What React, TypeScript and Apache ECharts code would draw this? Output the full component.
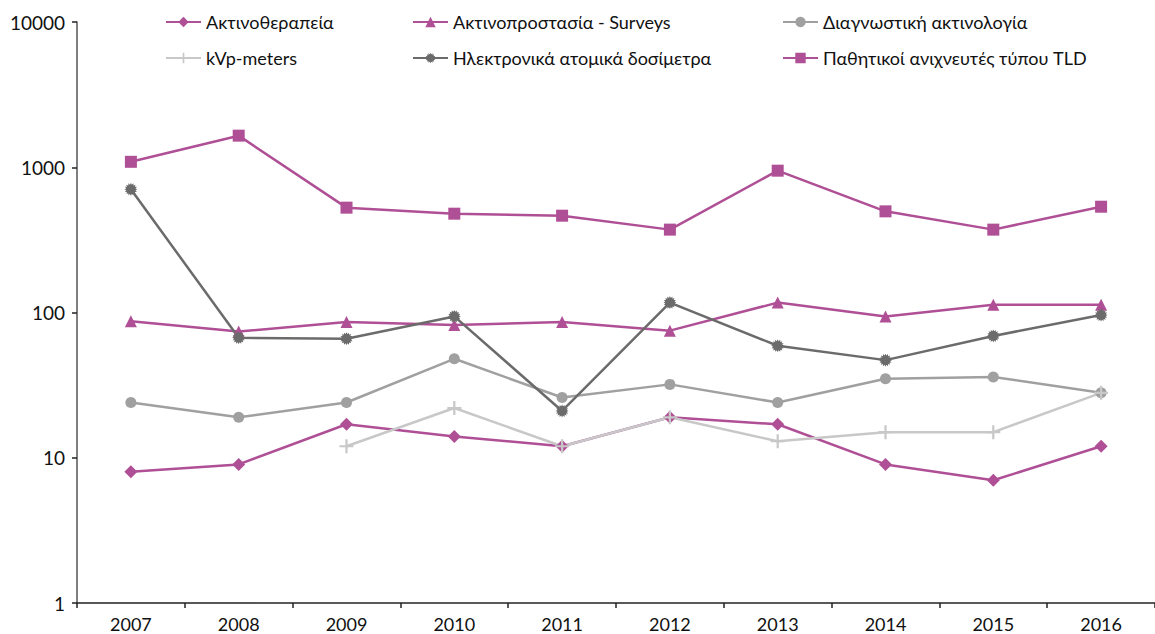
import React, { useEffect, useRef } from "react";
import * as echarts from "echarts";

const years = ["2007", "2008", "2009", "2010", "2011", "2012", "2013", "2014", "2015", "2016"];

const radiotherapy = [8, 9, 17, 14, 12, 19, 17, 9, 7, 12];
const surveys = [87, 74, 86, 82, 86, 75, 117, 94, 113, 113];
const diagnostic = [24, 19, 24, 48, 26, 32, 24, 35, 36, 28];
const kvpMeters = [null, null, 12, 22, 12, 19, 13, 15, 15, 28];
const electronicDosimeters = [705, 67, 66, 94, 21, 117, 59, 47, 69, 96];
const tldDetectors = [1090, 1650, 527, 479, 464, 372, 947, 497, 372, 535];

const NAMES = [
  "Ακτινοθεραπεία",
  "Ακτινοπροστασία - Surveys",
  "Διαγνωστική ακτινολογία",
  "kVp-meters",
  "Ηλεκτρονικά ατομικά δοσίμετρα",
  "Παθητικοί ανιχνευτές τύπου TLD",
];

const MAGENTA = "#af4f95";
const DARK = "#6b6b6b";
const MID = "#a0a0a0";
const LIGHT = "#c8c8c8";
const FONT = "Lato, 'Open Sans', sans-serif";

// starburst marker outline (16 spikes)
function starburstPath(): string {
  const pts: string[] = [];
  const n = 16;
  for (let i = 0; i < n * 2; i++) {
    const r = i % 2 === 0 ? 10 : 7.2;
    const a = (Math.PI * i) / n;
    pts.push(`${(10 + r * Math.cos(a)).toFixed(2)},${(10 + r * Math.sin(a)).toFixed(2)}`);
  }
  return "path://M" + pts.join("L") + "Z";
}

const PLUS = "path://M4.2,0H5.8V4.2H10V5.8H5.8V10H4.2V5.8H0V4.2H4.2Z";

export default function App() {
  const ref = useRef<HTMLDivElement>(null);

  useEffect(() => {
    if (!ref.current) return;
    const chart = echarts.init(ref.current, null, { renderer: "svg" });

    const mk = (
      name: string,
      data: (number | null)[],
      color: string,
      symbol: string,
      symbolSize: number
    ) => ({
      name,
      type: "line",
      data,
      symbol,
      symbolSize,
      showSymbol: true,
      connectNulls: false,
      lineStyle: { color, width: 2.5 },
      itemStyle: { color, borderWidth: 0 },
      emphasis: { disabled: true },
    });

    const legendBase = {
      orient: "vertical",
      top: 8,
      itemGap: 18,
      itemWidth: 35,
      itemHeight: 13,
      textStyle: { fontFamily: FONT, fontSize: 18, color: "#111" },
      selectedMode: false,
    };

    chart.setOption({
      animation: false,
      backgroundColor: "#ffffff",
      textStyle: { fontFamily: FONT },
      legend: [
        { ...legendBase, left: 160, data: [NAMES[0], NAMES[3]] },
        { ...legendBase, left: 407, data: [NAMES[1], NAMES[4]] },
        { ...legendBase, left: 777, data: [NAMES[2], NAMES[5]] },
      ],
      grid: { left: 77, top: 22, width: 1085, height: 581, containLabel: false },
      xAxis: {
        type: "category",
        data: years,
        boundaryGap: true,
        axisLine: { lineStyle: { color: "#222", width: 1.5 } },
        axisTick: { show: true, length: 5, lineStyle: { color: "#222", width: 1.5 } },
        axisLabel: { color: "#111", fontSize: 18, fontFamily: FONT, margin: 12 },
        splitLine: { show: false },
      },
      yAxis: {
        type: "log",
        logBase: 10,
        min: 1,
        max: 10000,
        axisLine: { show: true, lineStyle: { color: "#555", width: 1.5 } },
        axisTick: { show: true, length: 5, lineStyle: { color: "#222", width: 1.5 } },
        minorTick: { show: false },
        axisLabel: {
          color: "#111",
          fontSize: 19,
          fontFamily: FONT,
          margin: 12,
          formatter: (v: number) => String(Math.round(v)),
        },
        splitLine: { show: false },
      },
      series: [
        mk(NAMES[0], radiotherapy, MAGENTA, "diamond", 13),
        mk(NAMES[1], surveys, MAGENTA, "triangle", 12),
        mk(NAMES[2], diagnostic, MID, "circle", 11),
        mk(NAMES[3], kvpMeters, LIGHT, PLUS, 14),
        mk(NAMES[4], electronicDosimeters, DARK, starburstPath(), 13),
        mk(NAMES[5], tldDetectors, MAGENTA, "rect", 12),
      ],
    });

    return () => chart.dispose();
  }, []);

  return (
    <div
      ref={ref}
      style={{ position: "fixed", left: 0, top: 0, width: 1155, height: 634, background: "#fff" }}
    />
  );
}
